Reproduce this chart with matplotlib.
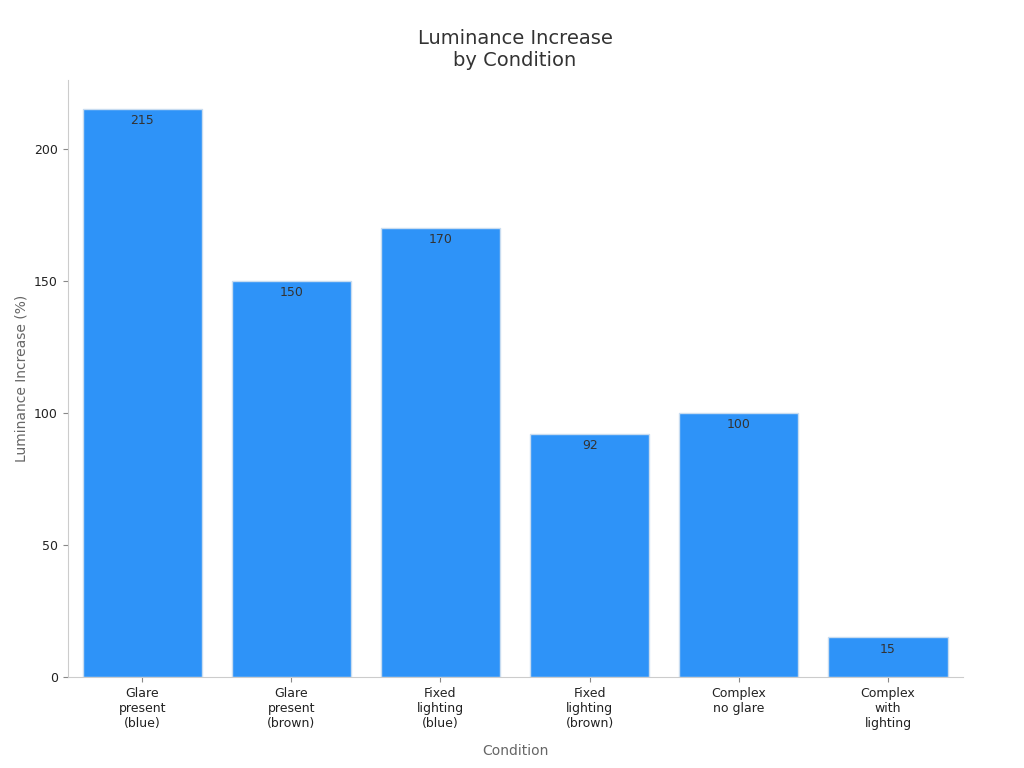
import matplotlib
matplotlib.use("Agg")
import matplotlib.pyplot as plt

categories = ["Glare\npresent\n(blue)", "Glare\npresent\n(brown)", "Fixed\nlighting\n(blue)",
              "Fixed\nlighting\n(brown)", "Complex\nno glare", "Complex\nwith\nlighting"]
values = [215, 150, 170, 92, 100, 15]

fig = plt.figure(figsize=(10.24, 7.68), dpi=100)
ax = fig.add_axes([0.066, 0.1185, 0.874, 0.7775])

x = range(len(categories))
bars = ax.bar(x, values, width=0.8, color="#2E93F8", edgecolor="#c8dcf0", linewidth=1)
for b, v in zip(bars, values):
    ax.text(b.get_x() + b.get_width() / 2, v - 2, str(v), ha="center", va="top",
            fontsize=9, color="#333333")

ax.set_xlim(-0.5, 5.5)
ax.set_ylim(0, 226)
ax.set_xticks(list(x))
ax.set_xticklabels(categories, fontsize=9, color="#222222")
ax.set_yticks([0, 50, 100, 150, 200])
ax.tick_params(axis="y", labelsize=9, colors="#222222")
ax.tick_params(axis="both", color="#888888")
for s in ["top", "right"]:
    ax.spines[s].set_visible(False)
for s in ["left", "bottom"]:
    ax.spines[s].set_color("#cccccc")

ax.set_xlabel("Condition", fontsize=10, color="#666666", labelpad=10)
ax.set_ylabel("Luminance Increase (%)", fontsize=10, color="#666666")
ax.set_title("Luminance Increase\nby Condition", fontsize=14, color="#333333", pad=10)

plt.savefig("out.png", dpi=100)
